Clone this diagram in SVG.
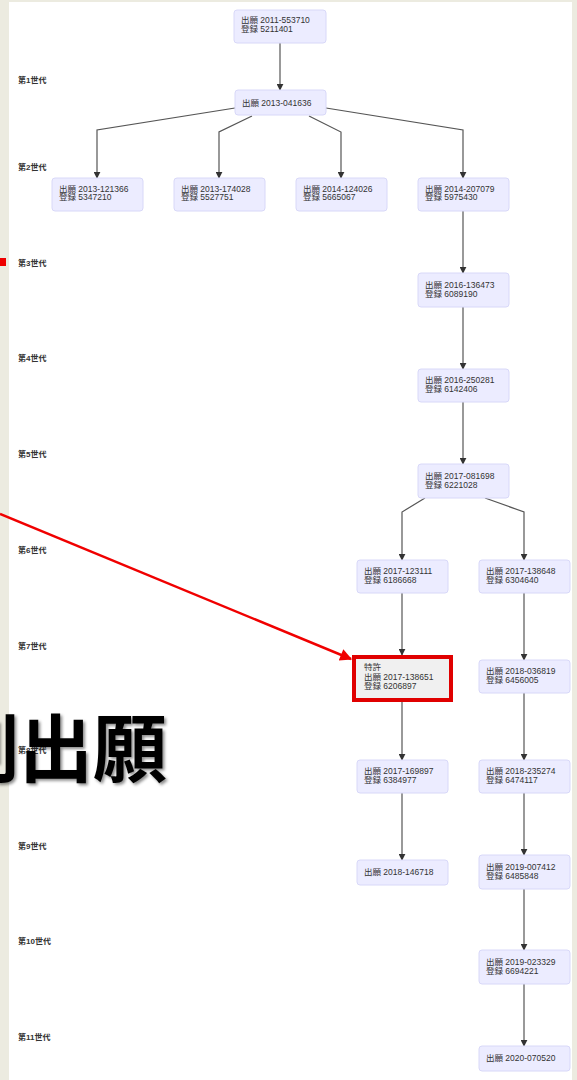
<svg xmlns="http://www.w3.org/2000/svg" width="577" height="1080" viewBox="0 0 577 1080">
<style>
.gen{font-family:"Liberation Sans","Noto Sans CJK JP",sans-serif;font-size:8px;font-weight:bold;fill:#333}
.nt{font-family:"Liberation Sans","Noto Sans CJK JP",sans-serif;font-size:8.5px;fill:#333}
.box{fill:#ececff;stroke:#d8d8f8;stroke-width:1}
.hl{fill:#f0f0f0;stroke:#e00000;stroke-width:4}
.edge{fill:none;stroke:#555;stroke-width:1.2;marker-end:url(#ah)}
.big{font-family:"Noto Sans CJK JP","Liberation Sans",sans-serif;font-size:74px;font-weight:bold;fill:#000}
</style>
<defs>
<marker id="ah" viewBox="0 0 10 10" refX="9" refY="5" markerWidth="7" markerHeight="7" markerUnits="userSpaceOnUse" orient="auto"><path d="M0,0 L10,5 L0,10 z" fill="#333"/></marker>
<marker id="rah" viewBox="0 0 10 10" refX="9" refY="5" markerWidth="14" markerHeight="12" markerUnits="userSpaceOnUse" orient="auto"><path d="M0,0 L10,5 L0,10 z" fill="#f00000"/></marker>
<filter id="sh" x="-10%" y="-10%" width="130%" height="130%"><feDropShadow dx="2" dy="2" stdDeviation="1.5" flood-color="#000" flood-opacity="0.45"/></filter>
</defs>
<rect x="0" y="0" width="577" height="1080" fill="#ffffff"/>
<rect x="0" y="0" width="9" height="1080" fill="#ecebe0"/>
<rect x="0" y="0" width="577" height="2" fill="#ecebe0"/>
<rect x="572" y="0" width="5" height="1080" fill="#ecebe0"/>
<rect x="0" y="258" width="6" height="8" fill="#ee0000"/>

<g id="generations">
<text class="gen" x="18" y="83">第1世代</text>
<text class="gen" x="18" y="170">第2世代</text>
<text class="gen" x="18" y="266">第3世代</text>
<text class="gen" x="18" y="361">第4世代</text>
<text class="gen" x="18" y="457">第5世代</text>
<text class="gen" x="18" y="553">第6世代</text>
<text class="gen" x="18" y="649">第7世代</text>
<text class="gen" x="18" y="753">第8世代</text>
<text class="gen" x="18" y="849">第9世代</text>
<text class="gen" x="18" y="944">第10世代</text>
<text class="gen" x="18" y="1040">第11世代</text>
</g>

<g id="connectors">
<path class="edge" d="M280,43 V90"/>
<path class="edge" d="M235,108 L97,130 V178"/>
<path class="edge" d="M252,116 L219,132 V178"/>
<path class="edge" d="M309,116 L341,132 V178"/>
<path class="edge" d="M326,108 L463,130 V178"/>
<path class="edge" d="M463,211 V273"/>
<path class="edge" d="M463,307 V369"/>
<path class="edge" d="M463,402 V464"/>
<path class="edge" d="M425,498 L402,512 V560"/>
<path class="edge" d="M485,498 L524,512 V560"/>
<path class="edge" d="M402,593 V655"/>
<path class="edge" d="M402,701 V760"/>
<path class="edge" d="M402,793 V860"/>
<path class="edge" d="M524,593 V660"/>
<path class="edge" d="M524,693 V760"/>
<path class="edge" d="M524,793 V855"/>
<path class="edge" d="M524,889 V950"/>
<path class="edge" d="M524,984 V1046"/>
</g>

<g id="n1"><rect class="box" x="234" y="10" width="92" height="33" rx="3"/><text class="nt" x="241" y="23">出願 2011-553710</text><text class="nt" x="241" y="32">登録 5211401</text></g>
<g id="n2"><rect class="box" x="235" y="90" width="91" height="25" rx="3"/><text class="nt" x="242" y="106">出願 2013-041636</text></g>
<g id="n3"><rect class="box" x="52" y="178" width="91" height="33" rx="3"/><text class="nt" x="59" y="192">出願 2013-121366</text><text class="nt" x="59" y="200">登録 5347210</text></g>
<g id="n4"><rect class="box" x="174" y="178" width="91" height="33" rx="3"/><text class="nt" x="181" y="192">出願 2013-174028</text><text class="nt" x="181" y="200">登録 5527751</text></g>
<g id="n5"><rect class="box" x="296" y="178" width="91" height="33" rx="3"/><text class="nt" x="303" y="192">出願 2014-124026</text><text class="nt" x="303" y="200">登録 5665067</text></g>
<g id="n6"><rect class="box" x="418" y="178" width="91" height="33" rx="3"/><text class="nt" x="425" y="192">出願 2014-207079</text><text class="nt" x="425" y="200">登録 5975430</text></g>
<g id="n7"><rect class="box" x="418" y="273" width="91" height="34" rx="3"/><text class="nt" x="425" y="288">出願 2016-136473</text><text class="nt" x="425" y="297">登録 6089190</text></g>
<g id="n8"><rect class="box" x="418" y="369" width="91" height="33" rx="3"/><text class="nt" x="425" y="383">出願 2016-250281</text><text class="nt" x="425" y="392">登録 6142406</text></g>
<g id="n9"><rect class="box" x="418" y="464" width="91" height="34" rx="3"/><text class="nt" x="425" y="479">出願 2017-081698</text><text class="nt" x="425" y="488">登録 6221028</text></g>
<g id="n10"><rect class="box" x="357" y="560" width="91" height="33" rx="3"/><text class="nt" x="364" y="574">出願 2017-123111</text><text class="nt" x="364" y="583">登録 6186668</text></g>
<g id="n11"><rect class="box" x="479" y="560" width="91" height="33" rx="3"/><text class="nt" x="486" y="574">出願 2017-138648</text><text class="nt" x="486" y="583">登録 6304640</text></g>
<g id="n12"><rect class="hl" x="354" y="657" width="97" height="43"/><text class="nt" x="364" y="670">特許</text><text class="nt" x="364" y="680">出願 2017-138651</text><text class="nt" x="364" y="689">登録 6206897</text></g>
<g id="n13"><rect class="box" x="479" y="660" width="91" height="33" rx="3"/><text class="nt" x="486" y="674">出願 2018-036819</text><text class="nt" x="486" y="683">登録 6456005</text></g>
<g id="n14"><rect class="box" x="357" y="760" width="91" height="33" rx="3"/><text class="nt" x="364" y="774">出願 2017-169897</text><text class="nt" x="364" y="783">登録 6384977</text></g>
<g id="n15"><rect class="box" x="479" y="760" width="91" height="33" rx="3"/><text class="nt" x="486" y="774">出願 2018-235274</text><text class="nt" x="486" y="783">登録 6474117</text></g>
<g id="n16"><rect class="box" x="357" y="860" width="91" height="25" rx="3"/><text class="nt" x="364" y="875">出願 2018-146718</text></g>
<g id="n17"><rect class="box" x="479" y="855" width="91" height="34" rx="3"/><text class="nt" x="486" y="870">出願 2019-007412</text><text class="nt" x="486" y="879">登録 6485848</text></g>
<g id="n18"><rect class="box" x="479" y="950" width="91" height="34" rx="3"/><text class="nt" x="486" y="965">出願 2019-023329</text><text class="nt" x="486" y="974">登録 6694221</text></g>
<g id="n19"><rect class="box" x="479" y="1046" width="91" height="25" rx="3"/><text class="nt" x="486" y="1061">出願 2020-070520</text></g>

<g id="callout">
<line x1="0" y1="514" x2="351" y2="659" stroke="#f00000" stroke-width="2.5" marker-end="url(#rah)"/>
<text class="big" x="167" y="776" text-anchor="end" filter="url(#sh)">割出願</text>
</g>
</svg>
